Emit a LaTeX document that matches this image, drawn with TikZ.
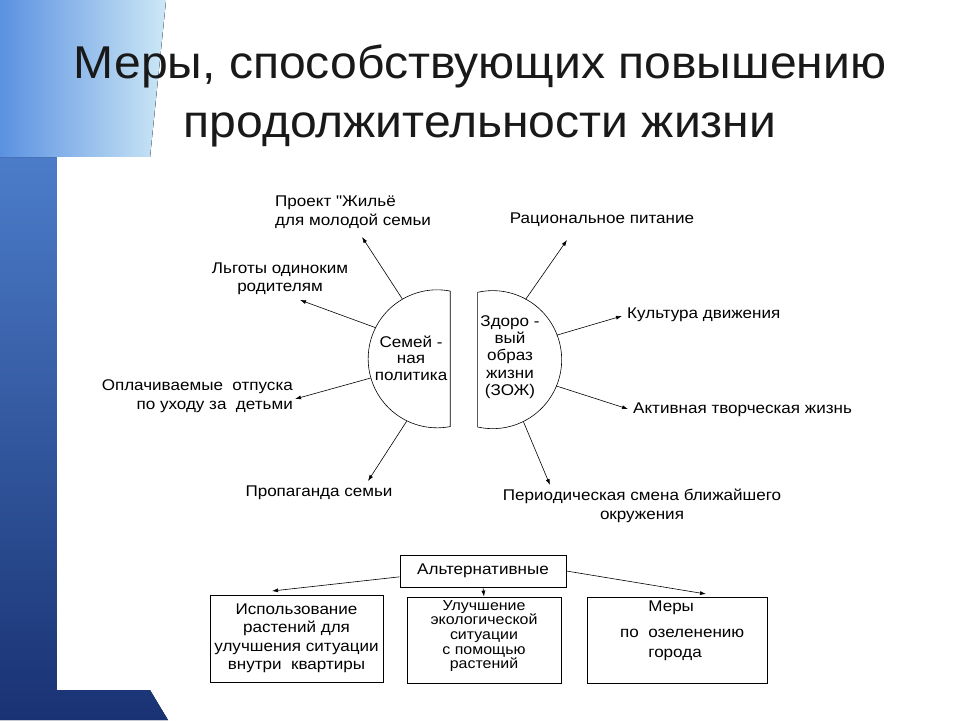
\documentclass[tikz,border=0pt]{standalone}
\usepackage{fontspec}
\setmainfont{Liberation Sans}
\newfontfamily\diagfont[FakeStretch=1.1]{Liberation Sans}
\newfontfamily\titlefont[FakeStretch=1.045]{Liberation Sans}
\usetikzlibrary{arrows.meta}
\definecolor{bgtop}{RGB}{90,145,225}
\definecolor{bgbot}{RGB}{25,50,115}
\definecolor{bglight}{RGB}{205,232,246}
\definecolor{titlegray}{RGB}{25,25,25}
\newcommand\lblsize{\diagfont\fontsize{15.5}{18.5}\selectfont}
\tikzset{
    lbl/.style={font=\lblsize, inner sep=0pt, align=center},
    arr/.style={-{Latex[length=6pt,width=4pt]}, line width=0.6pt},
    box/.style={draw, line width=0.8pt, inner sep=0pt, font=\lblsize, align=center},
    half/.style={line width=0.6pt},
    ring/.style={circle, minimum size=138pt, inner sep=0pt}
}
\begin{document}
\begin{tikzpicture}[x=1pt,y=-1pt]
                \useasboundingbox (0,0) rectangle (960,720);
                \fill[white] (0,0) rectangle (960,720);
                \fill[top color=bgtop, bottom color=bgbot] (0,0) -- (166,0) -- (150,157) -- (150,690) -- (168,720) -- (0,720) -- cycle;
                \fill[left color=bgtop, right color=bglight] (0,0) -- (166,0) -- (150,157) -- (0,157) -- cycle;
                \fill[white] (57,157) rectangle (960,690);
                \node[font=\titlefont\fontsize{46}{50}\selectfont, text=titlegray, anchor=base] (title1) at (480,78) {Меры, способствующих повышению};
                \node[font=\titlefont\fontsize{46}{50}\selectfont, text=titlegray, anchor=base] (title2) at (480,137) {продолжительности жизни};
                \node[ring] (fam) at (437,359) {};
                \node[ring] (zoj) at (492,360) {};
                \draw[half] (fam.79.1) arc[start angle=-79.1, end angle=-280.9, radius=69] -- cycle;
                \draw[half] (zoj.102.6) arc[start angle=-102.6, end angle=102.6, radius=69] -- cycle;
                \node[lbl, font=\diagfont\fontsize{15.5}{16.5}\selectfont] (famtxt) at (411,358) {Семей -\\ная\\политика};
                \node[lbl, font=\diagfont\fontsize{15.5}{17.2}\selectfont] (zojtxt) at (510,357) {Здоро -\\вый\\образ\\жизни\\(ЗОЖ)};
                \node[lbl, align=left, anchor=west] (proj) at (275,212) {Проект \symbol{34}Жильё\\для молодой семьи};
                \node[lbl] (lgot) at (280,279) {Льготы одиноким\\родителям};
                \node[lbl, align=right, anchor=east] (opl) at (293,396) {Оплачиваемые\ \ отпуска\\по уходу за\ \ детьми};
                \node[lbl] (prop) at (319,493) {Пропаганда семьи};
                \node[lbl] (rac) at (602,220) {Рациональное питание};
                \node[lbl, anchor=west] (kult) at (627,315) {Культура движения};
                \node[lbl, anchor=west] (akt) at (633,410) {Активная творческая жизнь};
                \node[lbl] (per) at (642,506) {Периодическая смена ближайшего\\окружения};
                \coordinate (projTip) at (362,237);
                \coordinate (lgotTip) at (300,300);
                \coordinate (oplTip) at (295,399);
                \coordinate (propTip) at (368,481);
                \coordinate (racTip) at (567,240);
                \coordinate (kultTip) at (622,316);
                \coordinate (aktTip) at (628,409);
                \coordinate (perTip) at (550,485);
                \draw[arr] (fam.120) -- (projTip);
                \draw[arr] (fam.153) -- (lgotTip);
                \draw[arr] (fam.196) -- (oplTip);
                \draw[arr] (fam.244.6) -- (propTip);
                \draw[arr] (zoj.61.2) -- (racTip);
                \draw[arr] (zoj.21.8) -- (kultTip);
                \draw[arr] (zoj.-22.6) -- (aktTip);
                \draw[arr] (zoj.-63) -- (perTip);
                \node[box, minimum width=166pt, minimum height=32pt] (alt) at (483,571) {Альтернативные};
                \node[box, minimum width=173pt, minimum height=87pt] (use) at (296.5,638.5) {Использование\\растений для\\улучшения ситуации\\внутри\ \ квартиры};
                \node[box, minimum width=154pt, minimum height=86pt] (eco) at (484,640) {};
                \node[box, minimum width=180pt, minimum height=86pt] (city) at (677,640) {};
                \node[lbl, font=\diagfont\fontsize{14.5}{14.6}\selectfont] (ecotxt) at (484,636) {Улучшение\\экологической\\ситуации\\с помощью\\растений};
                \node[lbl, align=left, anchor=west] (citytxt) at (620,631) {\hphantom{по\ \ }Меры\\[7pt]по\ \ озеленению\\[2pt]\hphantom{по\ \ }города};
                \coordinate (useTip) at (272,591);
                \coordinate (cityTip) at (706,594);
                \draw[arr] (alt.184) -- (useTip);
                \draw[arr] (alt.south) -- (eco.north);
                \draw[arr] (alt.east) -- (cityTip);
\end{tikzpicture}
\end{document}
